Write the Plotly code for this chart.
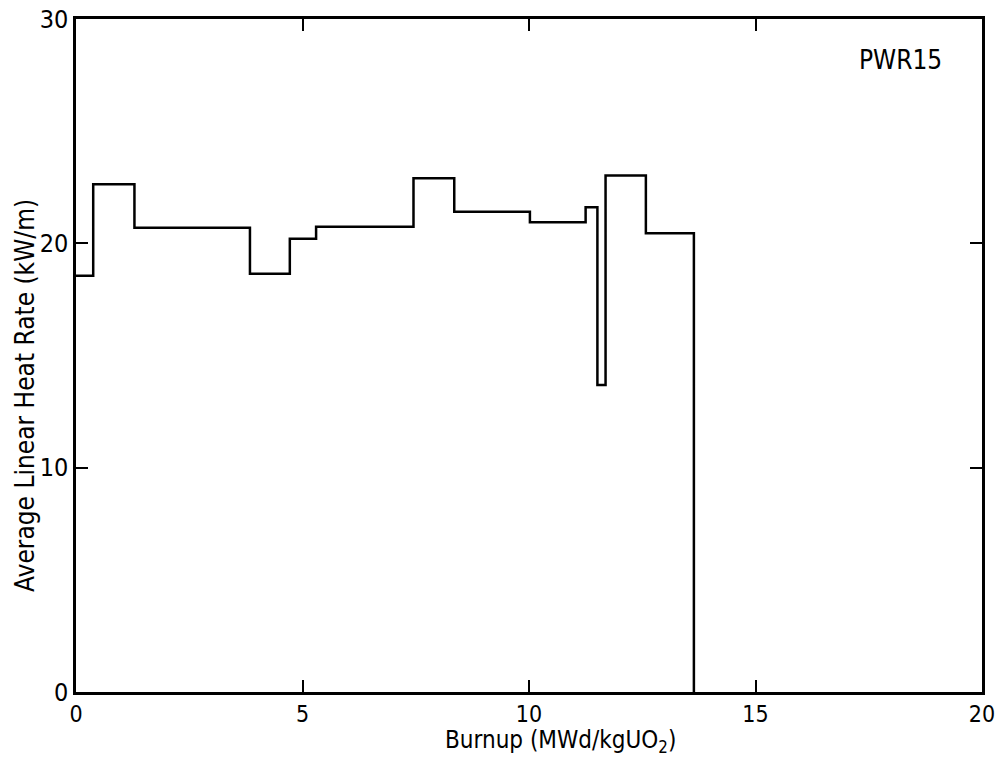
import plotly.graph_objects as go

# Segment start burnup (MWd/kgUO2) and heat rate (kW/m) for each step
burnup = [0.0, 0.38, 1.29, 3.84, 4.72, 5.30, 7.45, 8.35, 10.02, 11.25, 11.51, 11.69, 12.58, 13.64]
heat_rate = [18.56, 22.63, 20.70, 18.64, 20.20, 20.74, 22.90, 21.41, 20.94, 21.61, 13.69, 23.02, 20.45, 0.0]

x_ticks = [0, 5, 10, 15, 20]
y_ticks = [0, 10, 20, 30]

x_title = "Burnup (MWd/kgUO<sub>2</sub>)"
y_title = "Average Linear Heat Rate (kW/m)"

FONT = "DejaVu Sans Condensed, Liberation Sans, sans-serif"

fig = go.Figure()
fig.add_trace(go.Scatter(
    x=burnup, y=heat_rate, mode="lines", line_shape="hv",
    line=dict(color="black", width=2.5), showlegend=False, hoverinfo="skip"))

fig.add_annotation(x=0.958, y=0.965, xref="paper", yref="paper", text="PWR15",
                   showarrow=False, xanchor="right", yanchor="top",
                   font=dict(family=FONT, size=26, color="black"))

# axis titles placed as annotations to match the original's offsets
fig.add_annotation(x=0.535, y=0, xref="paper", yref="paper", text=x_title,
                   showarrow=False, xanchor="center", yanchor="top", yshift=-32,
                   font=dict(family=FONT, size=24, color="black"))
fig.add_annotation(x=0, y=0.44, xref="paper", yref="paper", text=y_title,
                   showarrow=False, textangle=-90, xanchor="right", yanchor="middle",
                   xshift=-34, font=dict(family=FONT, size=26, color="black"))

axis_common = dict(showgrid=False, zeroline=False, showline=True, linecolor="black",
                   linewidth=2.5, mirror="ticks", ticks="inside", ticklen=12,
                   tickwidth=2, tickcolor="black", automargin=False)

fig.update_xaxes(range=[0, 20], tickvals=x_ticks, ticktext=[str(v) for v in x_ticks],
                 ticklabelstandoff=0, tickfont=dict(family=FONT, size=23, color="black"),
                 **axis_common)
fig.update_yaxes(range=[0, 30], tickvals=y_ticks, ticktext=[str(v) for v in y_ticks],
                 ticklabelstandoff=0, tickfont=dict(family=FONT, size=25, color="black"),
                 **axis_common)

fig.update_layout(width=1002, height=758, margin=dict(l=76, r=20, t=19, b=66),
                  paper_bgcolor="white", plot_bgcolor="white")

fig.write_html("out.html")
